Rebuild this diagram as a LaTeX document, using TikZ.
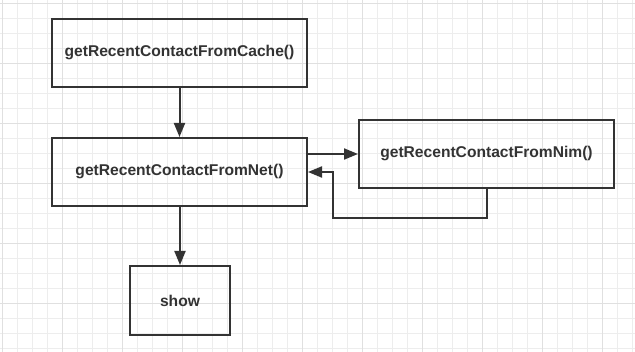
\documentclass[tikz,border=0pt]{standalone}
\usepackage{fontspec}
\setmainfont{Liberation Sans}
\usepackage{xcolor}
\usepackage{tikz}
\usetikzlibrary{arrows.meta}

\definecolor{ink}{HTML}{333333}
\definecolor{gridminor}{HTML}{EDEDED}
\definecolor{gridmajor}{HTML}{E0E0E0}

\begin{document}
\begin{tikzpicture}[x=1pt,y=-1pt]
    \tikzstyle{box}=[draw=ink, line width=2pt, rectangle, text=ink,
        font=\fontsize{15.6}{18}\selectfont\bfseries, inner sep=0pt]
    \tikzstyle{arr}=[draw=ink, line width=2pt, -{Triangle[length=14pt,width=11pt]}]
\useasboundingbox (0,0) rectangle (635,352);
\fill[white] (0,0) rectangle (635,352);
% paper grid
\foreach \i in {0,...,42} {
    \draw[gridminor, line width=1pt] (2+15*\i,0) -- (2+15*\i,352);
}
\foreach \j in {0,...,23} {
    \draw[gridminor, line width=1pt] (0,4+15*\j) -- (635,4+15*\j);
}
\foreach \i in {0,4,...,40} {
    \draw[gridmajor, line width=1pt] (2+15*\i,0) -- (2+15*\i,352);
}
\foreach \j in {0,4,...,20} {
    \draw[gridmajor, line width=1pt] (0,4+15*\j) -- (635,4+15*\j);
}

\node[box, minimum width=255pt, minimum height=68pt] (cache) at (179.5,53) {getRecentContactFromCache()};
\node[box, minimum width=255pt, minimum height=68pt] (net) at (179.5,172) {getRecentContactFromNet()};
\node[box, minimum width=255pt, minimum height=68pt] (nim) at (486.5,154) {getRecentContactFromNim()};
\node[box, minimum width=100pt, minimum height=69pt] (show) at (180,300.5) {show};
\coordinate (back) at (333,218);

\draw[arr] (cache) -- (net);
\draw[arr] (net.east |- nim.west) -- (nim.west);
\draw[arr] (nim.south) |- (back) |- (net.east);
\draw[arr] (net.south -| show.north) -- (show.north);
\end{tikzpicture}
\end{document}
